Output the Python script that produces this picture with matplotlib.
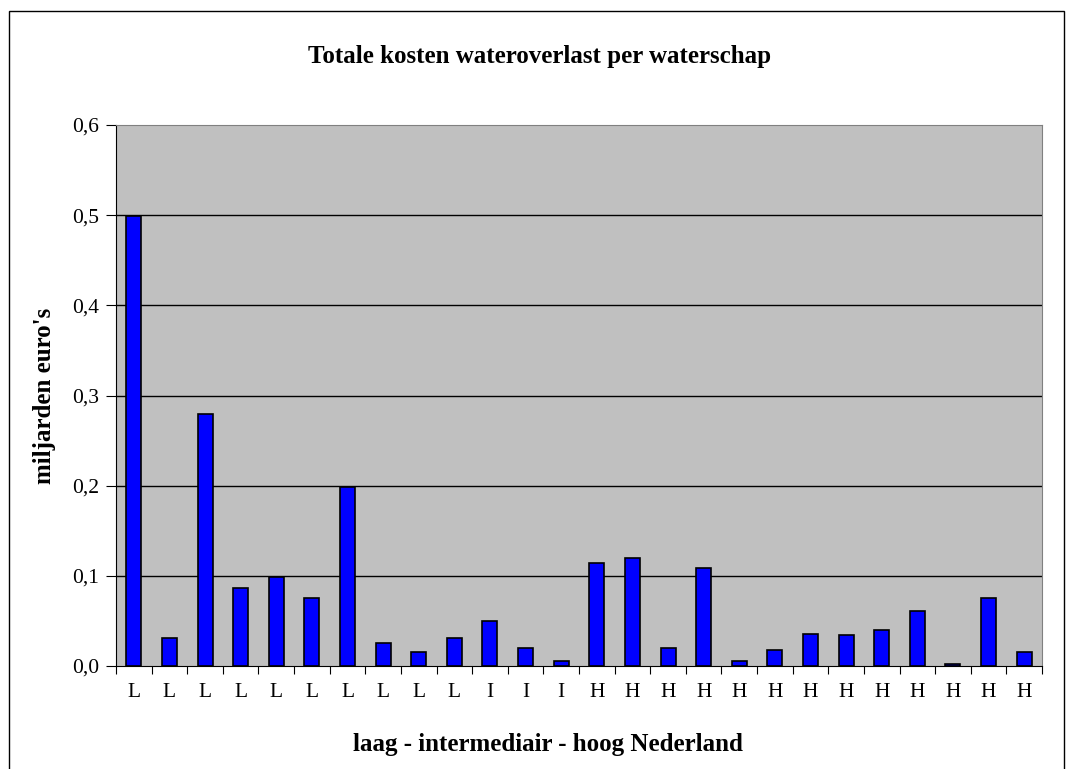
import numpy as np
import matplotlib.pyplot as plt
from matplotlib.patches import Rectangle

# regio per waterschap (laag / intermediair / hoog) en kosten in miljarden euro
regio = ["L", "L", "L", "L", "L", "L", "L", "L", "L", "L",
         "I", "I", "I",
         "H", "H", "H", "H", "H", "H", "H", "H", "H", "H", "H", "H", "H"]
kosten = [0.499, 0.031, 0.279, 0.086, 0.099, 0.075, 0.199, 0.025, 0.015, 0.031,
          0.050, 0.020, 0.006,
          0.114, 0.120, 0.020, 0.109, 0.0055, 0.018, 0.0355, 0.034, 0.040,
          0.061, 0.002, 0.075, 0.016]
y_ticks = [0.0, 0.1, 0.2, 0.3, 0.4, 0.5, 0.6]
y_ticklabels = ["0,0", "0,1", "0,2", "0,3", "0,4", "0,5", "0,6"]

plt.rcParams["font.family"] = ["Liberation Serif", "DejaVu Serif"]

W, H = 1074, 769
fig = plt.figure(figsize=(W / 100, H / 100), dpi=100)
ax = fig.add_axes([116 / W, 1 - 666 / H, (1042 - 116) / W, (666 - 125) / H])

# outer chart border
fig.patches.append(Rectangle((9 / W, -0.05), (1064 - 9) / W, 1.05 - 11 / H,
                             transform=fig.transFigure, fill=False,
                             edgecolor="black", linewidth=1.0))

x = np.arange(len(kosten))
ax.set_facecolor("#c0c0c0")
ax.bar(x, kosten, width=0.42, color="#0000ff", edgecolor="black",
       linewidth=1.2, zorder=3)

ax.set_xlim(-0.5, len(kosten) - 0.5)
ax.set_ylim(0, 0.6)
ax.set_yticks(y_ticks)
ax.set_yticklabels(y_ticklabels, fontsize=15.5)
for yv in y_ticks[1:-1]:
    ax.axhline(yv, color="black", linewidth=1.0, zorder=1)

ax.set_xticks(np.arange(len(kosten) + 1) - 0.5)
ax.set_xticklabels([])
ax.set_xticks(x, minor=True)
ax.set_xticklabels(regio, minor=True, fontsize=15.5)
ax.tick_params(axis="x", which="minor", length=0, pad=12)
ax.tick_params(axis="x", which="major", length=6, direction="out")
ax.tick_params(axis="y", length=7, direction="out", pad=5)

for side in ["top", "right"]:
    ax.spines[side].set_color("#808080")
ax.spines["left"].set_color("black")
ax.spines["bottom"].set_color("black")

ax.set_ylabel("miljarden euro's", fontsize=18, fontweight="bold", va="center")
ax.yaxis.set_label_coords((45 - 116) / (1042 - 116), 0.5)
ax.set_xlabel("laag - intermediair - hoog Nederland", fontsize=18,
              fontweight="bold", va="center")
ax.xaxis.set_label_coords((548 - 116) / (1042 - 116), (666 - 745) / (666 - 125))
fig.text(540 / W, 1 - 56 / H, "Totale kosten wateroverlast per waterschap",
         ha="center", va="center", fontsize=18, fontweight="bold")

fig.savefig("out.png", dpi=100)
